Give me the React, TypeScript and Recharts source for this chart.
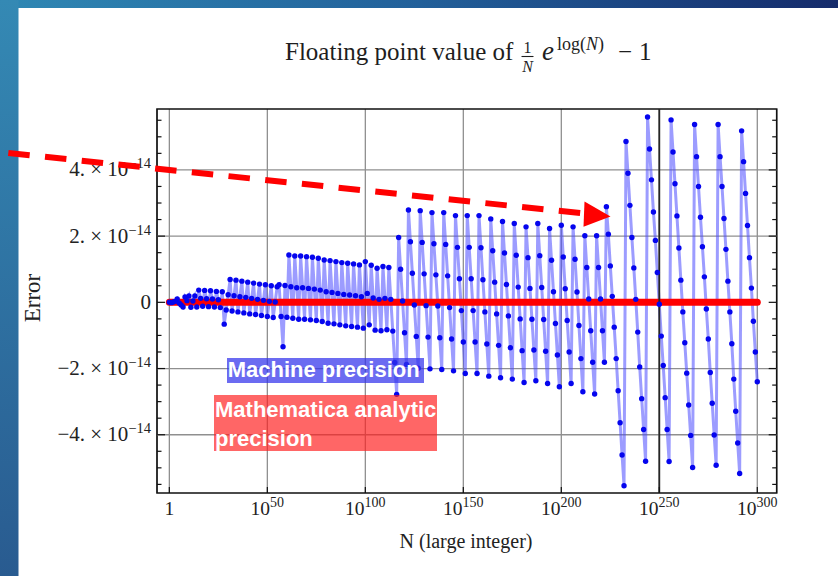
import React from 'react';
import {
  LineChart, Line, XAxis, YAxis, CartesianGrid, ReferenceLine, ReferenceArea,
} from 'recharts';

// N = 10^k for k = 0..300, one point per decade.
// Error of (1/N) e^log(N) - 1 in machine precision, in units of 1e-14,
// split by the binade of log(N) (the rounding grid doubles at each one).
const errLogBelow32 = [
  0, -0.01, 0.01, 0.03, 0.10, -0.02, -0.08, -0.14, 0.16, 0.05, 0.19, -0.15, 0.04, 0.19,
];
const errLog32to64 = [
  -0.14, 0.37, 0.12, -0.12, 0.36, 0.11, -0.13, 0.35, 0.10, -0.14, 0.33, 0.08, -0.16, 0.32,
];
const errLog64to128 = [
  -0.66, -0.23, 0.23, 0.69, -0.26, 0.20, 0.67, -0.29, 0.17, 0.64, -0.32, 0.15, 0.61, -0.35,
  0.12, 0.58, -0.37, 0.09, 0.55, -0.40, 0.06, 0.53, -0.43, 0.03, 0.50, -0.46, 0.01, 0.47,
];
const errLog128to256 = [
  0.53, -0.43, -1.34, 0.51, -0.45,
  1.43, 0.47, -0.48, 1.40, 0.44, -0.51, 1.40, 0.44, -0.51, 1.38, 0.42, -0.53,
  1.36, 0.40, -0.55, 1.33, 0.37, -0.58, 1.28, 0.32, -0.63, 1.26, 0.30, -0.65,
  1.23, 0.27, -0.68, 1.20, 0.24, -0.71, 1.18, 0.22, -0.73, 1.16, 0.20, -0.75,
  1.13, 0.17, -0.78, 1.23, 0.27, -0.68, 1.12, 0.13, -0.84, 1.03, 0.09, -0.86,
  1.08, 0.12, -0.83,
];
const errLog256to512 = [
  1.05, 0.09, -0.87, -1.82, -2.78, 1.96, 1.00, 0.04, -0.92, -1.88,
  2.79, 1.83, 0.88, -0.08, -1.03, -1.99,
  2.77, 1.81, 0.86, -0.10, -1.05, -2.01,
  2.71, 1.77, 0.83, -0.11, -1.07, -2.03,
  2.71, 1.75, 0.80, -0.16, -1.11, -2.07,
  2.62, 1.66, 0.71, -0.25, -1.20, -2.15,
  2.62, 1.66, 0.71, -0.25, -1.20, -2.15,
  2.62, 1.65, 0.68, -0.29, -1.26, -2.23,
  2.52, 1.56, 0.61, -0.35, -1.30, -2.28,
  2.44, 1.49, 0.54, -0.41, -1.37, -2.32,
  2.38, 1.42, 0.46, -0.50, -1.46, -2.42,
  2.28, 1.35, 0.42, -0.51, -1.44, -2.37,
  2.38, 1.41, 0.45, -0.52, -1.48, -2.45,
  2.23, 1.27, 0.32, -0.64, -1.59, -2.55,
  2.33, 1.37, 0.41, -0.55, -1.50, -2.45,
  2.28, 1.30, 0.31, -0.70, -1.70, -2.70,
  2.01, 1.05, 0.10, -0.86, -1.81, -2.77,
  2.01, 1.05, 0.10, -0.86, -1.81,
];
const errLogAbove512 = [
  2.89, 2.06, 1.10, 0.18, -0.75, -1.70, -2.67, -3.64, -4.61, -5.54,
  4.86, 3.90, 2.93, 1.96, 1.04, 0.09, -0.90, -1.95, -2.91, -3.84, -4.80,
  5.60, 4.63, 3.70, 2.73, 1.87, 0.90, -0.06, -1.02, -1.91, -2.88, -3.84, -4.81,
  5.51, 4.54, 3.58, 2.61, 1.64, 0.67, -0.29, -1.22, -2.14, -3.10, -4.02, -4.99,
  5.37, 4.40, 3.50, 2.57, 1.68, 0.77, -0.20, -1.11, -2.12, -3.05, -4.01, -4.92,
  5.37, 4.40, 3.50, 2.53, 1.60, 0.64, -0.29, -1.25, -2.32, -3.29, -4.25, -5.17,
  5.18, 4.25, 3.29, 2.32, 1.35, 0.43, -0.57, -1.50, -2.40,
];

// exact arithmetic gives no error at all
const ANALYTIC_ERROR = 0;

const exponentTicks = [0, 50, 100, 150, 200, 250, 300];
const errorTicks = [
  -5.5, -5, -4.5, -4, -3.5, -3, -2.5, -2, -1.5, -1, -0.5, 0,
  0.5, 1, 1.5, 2, 2.5, 3, 3.5, 4, 4.5, 5, 5.5,
];
const labelledErrorTicks = [-4, -2, 0, 2, 4];
const gridErrors = [-4, -2, 2, 4];

const X_DOMAIN = [-6.3, 309.9];
const Y_DOMAIN = [-5.76, 5.84];

const SERIF = "'Liberation Serif', 'Times New Roman', serif";
const SANS = "'Liberation Sans', Arial, sans-serif";

const machineError = [
  ...errLogBelow32, ...errLog32to64, ...errLog64to128,
  ...errLog128to256, ...errLog256to512, ...errLogAbove512,
];
const chartData = machineError.map((err, k) => ({ k, err }));

const ExponentTick = (props: any) => {
  const { x, y, payload } = props;
  const p = payload.value;
  return (
    <g>
      <line x1={x} x2={x} y1={y} y2={y - 6} stroke="#111" strokeWidth={1.2} />
      <text x={x} y={y + 22} textAnchor="middle" fontFamily={SERIF} fontSize={19.5} fill="#222">
        {p === 0 ? '1' : (
          <>
            <tspan>10</tspan>
            <tspan dy={-8} fontSize={14}>{p}</tspan>
          </>
        )}
      </text>
    </g>
  );
};

const ErrorTickLeft = (props: any) => {
  const { x, y, payload } = props;
  const v = payload.value;
  const major = labelledErrorTicks.includes(v);
  return (
    <g>
      <line x1={x} x2={x + (major ? 8 : 4.5)} y1={y} y2={y} stroke="#111" strokeWidth={1.2} />
      {major && (
        <text x={x - 6} y={y + 6.5} textAnchor="end" fontFamily={SERIF} fontSize={21} fill="#222">
          {v === 0 ? '0' : (
            <>
              <tspan>{`${v < 0 ? '\u2212' : ''}${Math.abs(v)}. \u00d7 10`}</tspan>
              <tspan dy={-8} fontSize={14.5}>{'\u221214'}</tspan>
            </>
          )}
        </text>
      )}
    </g>
  );
};

const ErrorTickRight = (props: any) => {
  const { x, y, payload } = props;
  const major = labelledErrorTicks.includes(payload.value);
  return <line x1={x} x2={x - (major ? 8 : 4.5)} y1={y} y2={y} stroke="#111" strokeWidth={1.2} />;
};

const App = () => {
  return (
    <div style={{ position: 'absolute', left: 0, top: 0, width: 838, height: 576, background: '#fff', overflow: 'hidden', fontFamily: SERIF }}>
      <LineChart
        width={838}
        height={576}
        data={chartData}
        margin={{ top: 109, right: 41.3, bottom: 43, left: 57 }}
      >
        <CartesianGrid xAxisId="n" yAxisId="err" horizontal={false} stroke="#8f8f8f" strokeWidth={1.3} />
        {gridErrors.map((e) => (
          <ReferenceLine key={e} xAxisId="n" yAxisId="err" y={e} stroke="#8f8f8f" strokeWidth={1.3} />
        ))}
        <XAxis
          xAxisId="n"
          dataKey="k"
          type="number"
          domain={X_DOMAIN}
          ticks={exponentTicks}
          interval={0}
          allowDataOverflow
          height={40}
          tickSize={0}
          tickMargin={0}
          tickLine={false}
          axisLine={false}
          tick={<ExponentTick />}
        />
        <YAxis
          yAxisId="err"
          type="number"
          domain={Y_DOMAIN}
          ticks={errorTicks}
          interval={0}
          allowDataOverflow
          width={100}
          tickSize={0}
          tickMargin={0}
          tickLine={false}
          axisLine={false}
          tick={<ErrorTickLeft />}
        />
        <YAxis
          yAxisId="errRight"
          orientation="right"
          type="number"
          domain={Y_DOMAIN}
          ticks={errorTicks}
          interval={0}
          allowDataOverflow
          width={20}
          tickSize={0}
          tickMargin={0}
          tickLine={false}
          axisLine={false}
          tick={<ErrorTickRight />}
        />
        <Line
          xAxisId="n"
          yAxisId="err"
          dataKey="err"
          stroke="rgba(75, 75, 255, 0.55)"
          strokeWidth={3}
          dot={{ r: 2.7, fill: '#0505ee', stroke: 'none' }}
          isAnimationActive={false}
        />
        <Line
          xAxisId="n"
          yAxisId="errRight"
          dataKey={() => ANALYTIC_ERROR}
          stroke="#ff0000"
          strokeWidth={7}
          strokeLinecap="round"
          dot={false}
          isAnimationActive={false}
        />
        <ReferenceLine xAxisId="n" yAxisId="err" x={250} stroke="#262626" strokeWidth={1.8} />
        <ReferenceArea
          xAxisId="n"
          yAxisId="err"
          x1={X_DOMAIN[0]}
          x2={X_DOMAIN[1]}
          y1={Y_DOMAIN[0]}
          y2={Y_DOMAIN[1]}
          fill="none"
          stroke="#111"
          strokeWidth={1.6}
          ifOverflow="visible"
        />
      </LineChart>

      <svg width={838} height={576} style={{ position: 'absolute', left: 0, top: 0, pointerEvents: 'none' }}>
        <defs>
          <linearGradient id="topBand" x1="0" x2="1" y1="0" y2="0">
            <stop offset="0" stopColor="#2f88b4" />
            <stop offset="0.5" stopColor="#22609a" />
            <stop offset="1" stopColor="#152b6b" />
          </linearGradient>
          <linearGradient id="sideBand" x1="0" x2="0" y1="0" y2="1">
            <stop offset="0" stopColor="#3489b4" />
            <stop offset="1" stopColor="#295b90" />
          </linearGradient>
        </defs>
        <rect x={0} y={0} width={838} height={8} fill="url(#topBand)" />
        <rect x={0} y={0} width={18.5} height={576} fill="url(#sideBand)" />

        {/* title */}
        <g fontFamily={SERIF} fill="#1e1e1e">
          <text x={285} y={59.5} fontSize={25}>Floating point value of</text>
          <text x={527.5} y={53} fontSize={16} textAnchor="middle">1</text>
          <line x1={521.5} x2={533.5} y1={56.5} y2={56.5} stroke="#1e1e1e" strokeWidth={1.1} />
          <text x={527.5} y={71.5} fontSize={16} fontStyle="italic" textAnchor="middle">N</text>
          <text x={542} y={59.5} fontSize={27} fontStyle="italic">e</text>
          <text x={557} y={50} fontSize={18}>
            log(<tspan fontStyle="italic">N</tspan>)
          </text>
          <text x={618} y={59.5} fontSize={25}>{'\u2212'}</text>
          <text x={639} y={59.5} fontSize={25}>1</text>
        </g>

        {/* axis titles */}
        <text x={466} y={547.5} textAnchor="middle" fontFamily={SERIF} fontSize={20} fill="#222">N (large integer)</text>
        <text
          x={0}
          y={0}
          transform="translate(40 298) rotate(-90)"
          textAnchor="middle"
          fontFamily={SERIF}
          fontSize={23}
          fill="#222"
        >
          Error
        </text>

        {/* dashed arrow */}
        <line x1={8.3} y1={153} x2={584} y2={213.5} stroke="#ff0000" strokeWidth={6} strokeDasharray="21.5 15.4" />
        <polygon points="584.5,201.5 583.5,226.7 610.5,216.6" fill="#ff0000" />
      </svg>

      <div style={{
        position: 'absolute', left: 226.7, top: 358.3, width: 197.3, height: 24.4,
        background: 'rgba(50, 50, 235, 0.72)', color: '#fff', fontFamily: SANS, fontWeight: 700,
        fontSize: 22, lineHeight: '24.4px', paddingLeft: 1, boxSizing: 'border-box', whiteSpace: 'nowrap',
      }}>
        Machine precision
      </div>
      <div style={{
        position: 'absolute', left: 214, top: 395, width: 222.7, height: 55.7,
        background: 'rgba(255, 30, 30, 0.68)', color: '#fff', fontFamily: SANS, fontWeight: 700,
        fontSize: 22, lineHeight: '29.4px', paddingLeft: 1, boxSizing: 'border-box', whiteSpace: 'nowrap',
      }}>
        Mathematica analytic<br />precision
      </div>
    </div>
  );
};

export default App;
